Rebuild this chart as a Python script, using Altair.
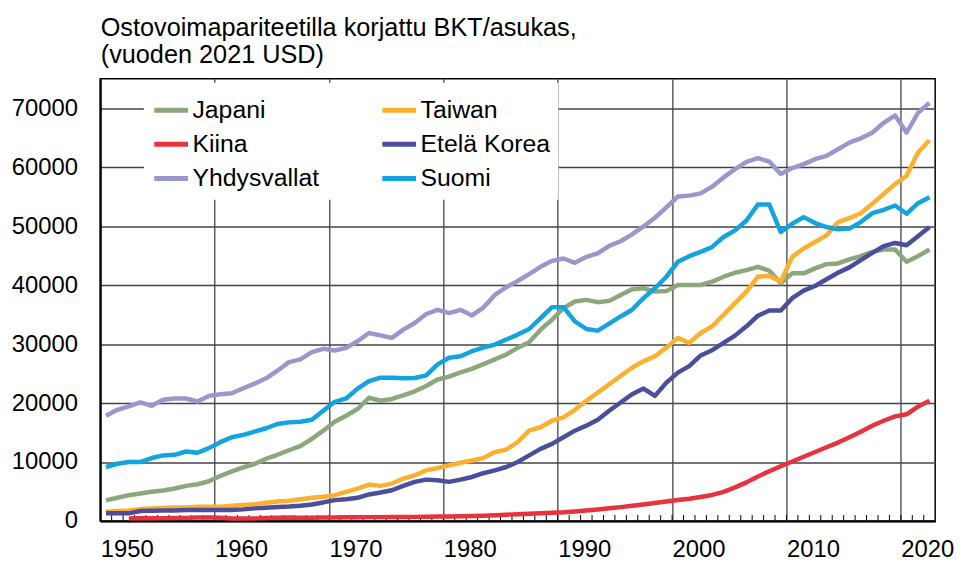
import altair as alt
import pandas as pd

FONT = "Liberation Sans"

years = list(range(1950, 2023))

japani = [3490, 3940, 4380, 4660, 4950, 5170, 5510, 5960, 6230, 6740,
          7640, 8420, 9090, 9670, 10560, 11230, 12000, 12700, 13930, 15320,
          16840, 17850, 19000, 20900, 20400, 20700, 21300, 22000, 22900, 24000,
          24500, 25200, 25800, 26600, 27400, 28240, 29370, 30310, 32450, 34130,
          36100, 37220, 37500, 37110, 37330, 38340, 39300, 39470, 38900, 38990,
          40030, 40030, 40030, 40580, 41430, 42100, 42550, 43110, 42440, 40320,
          42000, 42000, 42840, 43560, 43680, 44360, 44910, 45640, 46040, 46040,
          43950, 44910, 46040]

# Kiina: 1952-2022
kiina = [450, 460, 470, 490, 520, 530, 580, 580,
         540, 430, 420, 450, 500, 560, 600, 570, 550, 590,
         600, 630, 640, 660, 660, 690, 680, 700, 730, 750,
         770, 800, 850, 900, 980, 1070, 1140, 1230, 1320, 1400,
         1480, 1620, 1780, 1960, 2150, 2350, 2580, 2810, 3050, 3300,
         3560, 3780, 4080, 4420, 4950, 5700, 6550, 7550, 8450, 9300,
         10100, 10900, 11700, 12500, 13300, 14200, 15150, 16150, 17000, 17750,
         18100, 19400, 20400]

yhdysvallat = [17850, 18860, 19430, 20110, 19530, 20550, 20780, 20780, 20270, 21220,
               21500, 21670, 22510, 23300, 24200, 25490, 26940, 27400, 28630, 29200,
               28910, 29370, 30480, 31890, 31490, 31050, 32450, 33580, 35100, 35820,
               35260, 35820, 34860, 36200, 38340, 39640, 40700, 41880, 43110, 44120,
               44520, 43780, 44790, 45370, 46650, 47440, 48620, 49960, 51430, 53200,
               55020, 55180, 55570, 56700, 58270, 59680, 60910, 61530, 60960, 58840,
               59850, 60520, 61360, 61920, 63050, 64160, 64900, 65840, 67530, 68770,
               65840, 69210, 70900]

taiwan = [1580, 1690, 1800, 2020, 2140, 2190, 2310, 2310, 2420, 2420,
          2420, 2590, 2700, 2860, 3100, 3320, 3450, 3700, 3940, 4110,
          4380, 4950, 5510, 6180, 5960, 6350, 7190, 7750, 8590, 8990,
          9430, 9880, 10270, 10700, 11690, 12120, 13370, 15320, 15900, 17010,
          17580, 18860, 20380, 21790, 23190, 24590, 26000, 27110, 27950, 29400,
          31060, 30210, 31890, 33010, 34980, 36940, 38900, 41430, 41600, 40580,
          44790, 46210, 47320, 48450, 50690, 51360, 52200, 53790, 55470, 57150,
          58550, 62480, 64560]

etela_korea = [1300, 1300, 1300, 1690, 1740, 1800, 1800, 1850, 1850, 1850,
               1850, 1850, 1970, 2140, 2250, 2360, 2450, 2590, 2810, 3150,
               3540, 3700, 3940, 4500, 4830, 5220, 5960, 6630, 7020, 6900,
               6630, 7020, 7470, 8100, 8590, 9160, 10000, 11120, 12240, 13080,
               14210, 15320, 16170, 17180, 18690, 20100, 21500, 22460, 21220, 23470,
               25160, 26270, 28070, 28970, 30210, 31440, 33010, 34810, 35700, 35700,
               37790, 39070, 39860, 40990, 42100, 43010, 44240, 45470, 46600, 47150,
               46760, 48280, 49850]

suomi = [9160, 9710, 10000, 10000, 10680, 11120, 11230, 11790, 11570, 12360,
         13370, 14210, 14600, 15160, 15730, 16450, 16730, 16840, 17180, 18690,
         20210, 20780, 22460, 23740, 24310, 24310, 24200, 24250, 24700, 26560,
         27680, 27950, 28800, 29400, 29920, 30770, 31610, 32560, 34420, 36270,
         36270, 33850, 32560, 32280, 33460, 34690, 35820, 37790, 39470, 41430,
         43950, 44910, 45640, 46480, 48160, 49290, 50970, 53670, 53670, 49000,
         50420, 51530, 50520, 49850, 49460, 49580, 50690, 52200, 52780, 53500,
         52100, 53890, 54900]

series_names = ["Japani", "Kiina", "Yhdysvallat", "Taiwan", "Etelä Korea", "Suomi"]
series_values = [japani, kiina, yhdysvallat, taiwan, etela_korea, suomi]
series_colors = ["#8BA77C", "#E8333E", "#9898CE", "#FDB02E", "#4B4E9F", "#12A4E1"]

y_ticks = [0, 10000, 20000, 30000, 40000, 50000, 60000, 70000]
x_labels = [1950, 1960, 1970, 1980, 1990, 2000, 2010, 2020]
title_lines = ["Ostovoimapariteetilla korjattu BKT/asukas,", "(vuoden 2021 USD)"]

rows = []
for name, vals in zip(series_names, series_values):
    start = years[-1] - len(vals) + 1
    for k, v in enumerate(vals):
        rows.append({"vuosi": start + k, "maa": name, "bkt": v})
df = pd.DataFrame(rows)

tick_df = pd.DataFrame({"vuosi": [y + 0.5 for y in years[:-1]]})
grid_pos = [y - 0.5 for y in x_labels]

x_enc = alt.X(
    "vuosi:Q",
    scale=alt.Scale(domain=[years[0] - 0.5, years[-1] + 0.5], nice=False, zero=False),
    axis=alt.Axis(values=grid_pos, labelExpr="datum.value + 0.5", labelAlign="left",
                  labelPadding=17, labelFontSize=24, labelFlush=False,
                  labelOverlap=False, ticks=False, tickSize=0, grid=True,
                  gridColor="#444444", gridWidth=1.3, domainColor="#000000",
                  domainWidth=2, title=None),
)

y_enc = alt.Y(
    "bkt:Q",
    scale=alt.Scale(domain=[0, 75000], nice=False),
    axis=alt.Axis(values=y_ticks, format="d", labelFontSize=24, labelPadding=23,
                  ticks=False, tickSize=0, grid=True, gridColor="#444444", gridWidth=1.3,
                  domainColor="#000000", domainWidth=2,
                  title=title_lines, titleAngle=0, titleAlign="left",
                  titleBaseline="alphabetic", titleX=0, titleY=-44, titleFontSize=25.5,
                  titleFontWeight="normal", titleLineHeight=27.5, titleColor="#000000",
                  titleFont=FONT),
)

ticks = alt.Chart(tick_df).mark_rule(color="#000000", strokeWidth=1).encode(
    x=x_enc, y=alt.value(446), y2=alt.value(440)
)

lines = alt.Chart(df).mark_line(strokeWidth=4.5, strokeJoin="round").encode(
    x=x_enc,
    y=y_enc,
    color=alt.Color(
        "maa:N",
        scale=alt.Scale(domain=series_names, range=series_colors),
        legend=alt.Legend(orient="none", legendX=44, legendY=4, columns=2,
                          symbolType="stroke", symbolSize=1156, symbolStrokeWidth=5,
                          labelFontSize=25, labelFont=FONT, labelColor="#000000",
                          labelOffset=2, rowPadding=1.5, columnPadding=53,
                          fillColor="#ffffff", padding=8, title=None, labelLimit=400),
    ),
    detail="maa:N",
)

chart = alt.layer(ticks, lines).properties(
    width=842, height=446,
    autosize=alt.AutoSizeParams(type="none"),
    padding={"left": 93, "top": 69, "right": 20, "bottom": 40},
).configure(font=FONT).configure_axis(
    labelFont=FONT, labelColor="#000000"
).configure_view(stroke="#000000", strokeWidth=1.5)

chart.save("out.html", embed_options={"renderer": "svg", "actions": False})
